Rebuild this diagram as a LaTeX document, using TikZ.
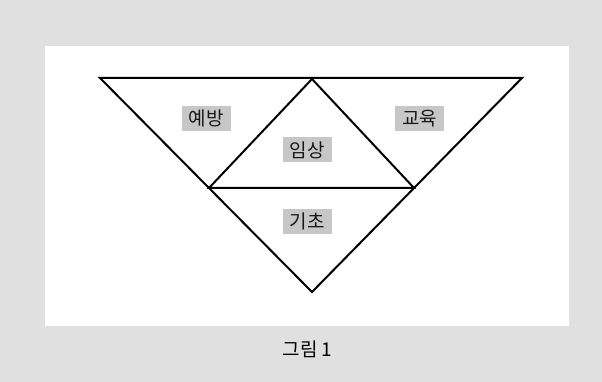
\documentclass[tikz,border=0pt]{standalone}
\usepackage{fontspec}
\newfontfamily\kr{Noto Sans CJK KR}
\usetikzlibrary{calc}
\begin{document}
\begin{tikzpicture}[x=1pt,y=-1pt,
  edge/.style={line width=2pt,line join=miter},
  lab/.style={fill=black!22,font=\kr\fontsize{19}{19}\selectfont,inner sep=0pt,
              minimum width=49pt,minimum height=25pt,text=black!90},
  caption/.style={font=\kr\fontsize{19}{19}\selectfont,inner sep=0pt}]
  % background
  \fill[black!12] (0,0) rectangle (602,382);
  \fill[white] (45,46) rectangle (569,326);
  \useasboundingbox (0,0) rectangle (602,382);
  % outer triangle
  \coordinate (TL) at (100,78);
  \coordinate (TR) at (522,78);
  \coordinate (B) at (312,292);
  % inner triangle
  \coordinate (A) at (312,79);
  \coordinate (L) at ($(TL)!0.514!(B)$);
  \coordinate (R) at ($(TR)!0.514!(B)$);
  \draw[edge] (TL) -- (TR) -- (B) -- cycle;
  \draw[edge] (A) -- (L) -- (R) -- cycle;
  % labels
  \node[lab] (yebang) at (206,118.5) {예방};
  \node[lab] (gyoyuk) at (419.5,119) {교육};
  \node[lab] (imsang) at (307,150) {임상};
  \node[lab] (gicho) at (307,221.5) {기초};
  \node[caption] (cap) at (307.5,349.5) {그림 1};
\end{tikzpicture}
\end{document}
